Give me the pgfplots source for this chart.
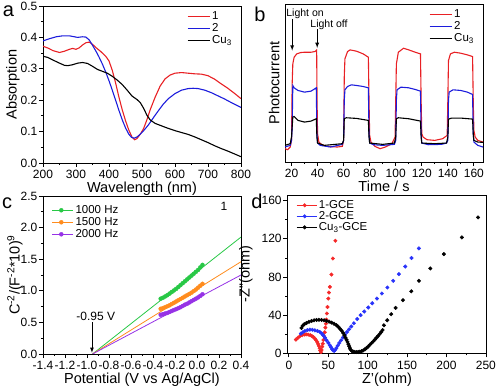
\documentclass[border=0pt]{standalone}
\usepackage{fontspec}
\setmainfont{Liberation Sans}
\usepackage{pgfplots}
\pgfplotsset{compat=1.18}
\definecolor{ar}{RGB}{232,32,36}
\definecolor{ab}{RGB}{28,28,220}
\definecolor{cg}{RGB}{40,200,70}
\definecolor{co}{RGB}{255,140,30}
\definecolor{cp}{RGB}{150,50,230}
\definecolor{dr}{RGB}{245,40,40}
\definecolor{db}{RGB}{40,50,250}
\pgfplotsset{every axis/.append style={
  scale only axis, anchor=south west,
  font=\fontsize{12bp}{14bp}\selectfont,
  tick align=outside, tick pos=left,
  major tick length=4bp, minor tick length=2.2bp,
  /pgf/number format/assume math mode=true,
  yticklabel style={inner xsep=1.5bp},
  label style={font=\fontsize{14.5bp}{16bp}\selectfont},
  axis line style={line width=0.9bp},
  every tick/.style={black, line width=0.8bp},
  legend cell align=left,
  legend style={draw=none, fill=none, font=\fontsize{11.5bp}{12.5bp}\selectfont, row sep=-1.5bp, inner sep=1bp},
}}
\begin{document}
\begin{tikzpicture}[x=1bp,y=1bp]
\useasboundingbox (0bp,0bp) rectangle (500bp,386bp);
% ---------------- a
\begin{axis}[at={(43bp,223bp)}, width=198bp, height=157bp,
  xmin=200, xmax=800, ymin=0, ymax=0.5,
  xtick={200,300,...,800}, ytick={0,0.1,...,0.5},
  minor x tick num=1, minor y tick num=1,
  yticklabel style={/pgf/number format/.cd, fixed, fixed zerofill, precision=1},
  xlabel={Wavelength (nm)}, ylabel={Absorption},
  xlabel style={yshift=3.5bp}, ylabel style={yshift=-4bp},
  legend style={at={(0.97,0.985)}, anchor=north east},
  legend image code/.code={\draw[#1] (0bp,0bp) -- (22bp,0bp);},
  every axis plot/.append style={line width=1.1bp}]
\addplot[ar] coordinates {(200,0.372)(215,0.366)(230,0.358)(250,0.352)(265,0.356)(280,0.362)(290,0.365)(300,0.362)(310,0.367)(320,0.376)(330,0.383)(340,0.385)(350,0.378)(360,0.368)(375,0.355)(390,0.34)(400,0.325)(410,0.295)(420,0.255)(430,0.21)(440,0.17)(450,0.135)(460,0.105)(470,0.082)(478,0.074)(485,0.078)(495,0.092)(505,0.11)(515,0.138)(525,0.17)(540,0.21)(555,0.245)(570,0.268)(585,0.28)(600,0.286)(620,0.288)(640,0.286)(660,0.284)(680,0.283)(700,0.278)(720,0.267)(740,0.252)(760,0.238)(780,0.222)(800,0.205)};
\addlegendentry{1}
\addplot[ab] coordinates {(200,0.389)(220,0.396)(240,0.402)(260,0.405)(280,0.405)(295,0.402)(305,0.400)(320,0.402)(330,0.401)(340,0.392)(350,0.375)(360,0.357)(370,0.337)(380,0.315)(390,0.29)(400,0.262)(410,0.232)(420,0.2)(430,0.168)(440,0.138)(450,0.112)(460,0.092)(468,0.082)(476,0.079)(485,0.083)(495,0.092)(505,0.103)(520,0.122)(535,0.145)(550,0.167)(565,0.188)(580,0.205)(600,0.221)(620,0.232)(640,0.237)(655,0.238)(670,0.237)(690,0.232)(710,0.224)(730,0.214)(750,0.204)(775,0.19)(800,0.177)};
\addlegendentry{2}
\addplot[black] coordinates {(200,0.340)(215,0.336)(230,0.328)(250,0.318)(265,0.311)(275,0.310)(290,0.313)(305,0.318)(320,0.320)(335,0.317)(350,0.308)(365,0.298)(380,0.292)(395,0.286)(410,0.276)(425,0.264)(440,0.250)(455,0.232)(470,0.213)(485,0.202)(495,0.192)(505,0.174)(515,0.152)(525,0.137)(540,0.126)(560,0.118)(580,0.110)(600,0.103)(620,0.097)(640,0.091)(660,0.083)(680,0.074)(700,0.065)(720,0.055)(740,0.046)(760,0.038)(780,0.029)(800,0.020)};
\addlegendentry{Cu\textsubscript{3}}
\end{axis}
% ---------------- b
\begin{axis}[at={(285bp,224bp)}, width=198bp, height=158bp,
  xmin=15, xmax=167, ymin=0, ymax=47.5,
  xtick={20,40,...,160}, ytick=\empty, minor x tick num=1,
  xlabel={Time / s}, ylabel={Photocurrent},
  xlabel style={yshift=3.5bp}, ylabel style={yshift=-2bp},
  legend style={at={(0.97,0.985)}, anchor=north east},
  legend image code/.code={\draw[#1] (0bp,0bp) -- (22bp,0bp);},
  every axis plot/.append style={line width=1.1bp}]
\addplot[ar] coordinates {(15,4.0)(17,3.7)(19,4.5)(20,6.5)(20.5,23.5)(21,29.5)(22,31.5)(24,32.5)(27,32.9)(30,33.0)(35,33.0)(38,33.2)(39.3,33.7)(39.6,18.5)(40,8.5)(41,6.0)(43,5.3)(47,4.7)(55,4.5)(59,4.7)(60,6.5)(60.5,25.5)(61,31)(63,33.2)(65,33.7)(70,33.3)(75,32.5)(79,31.5)(79.5,18.5)(80,8.0)(81,6.0)(84,4.7)(88,4.0)(92,4.5)(97,5.5)(99.5,7.5)(100,18.5)(100.5,29.5)(102,33.0)(106,34.2)(110,33.7)(115,33.0)(119,32.5)(119.5,18.5)(120,8.5)(121,7.5)(124,6.7)(130,6.5)(136,7.0)(139.5,8.0)(140,18.5)(140.5,30.5)(142,32.5)(145,33.0)(150,32.7)(155,32.2)(159,31.7)(159.5,18.5)(160,9.5)(161,7.5)(163,6.5)(167,6.0)};
\addlegendentry{1}
\addplot[ab] coordinates {(15,4.5)(19,5.0)(20,6.5)(20.5,10.5)(21,23.0)(22,22.3)(25,21.5)(30,21.0)(35,21.3)(39,22.3)(39.5,8.5)(40,5.7)(42,5.0)(50,4.5)(59,5.3)(60,6.5)(60.5,18.5)(61,21.7)(63,22.7)(66,23.2)(70,23.0)(75,22.7)(79,22.3)(79.5,8.5)(80,5.7)(83,5.2)(90,5.0)(99,5.3)(100,6.5)(100.5,18.5)(101,21.7)(104,22.5)(110,22.3)(115,21.8)(119,21.3)(119.5,8.5)(120,5.7)(125,5.2)(135,5.3)(139,5.7)(140,6.5)(140.5,18.5)(141,21.0)(144,21.7)(150,21.5)(155,21.0)(159,20.3)(159.5,8.5)(160,6.0)(163,5.0)(167,4.5)};
\addlegendentry{2}
\addplot[black] coordinates {(15,5.0)(19,5.5)(20,7.5)(20.5,10.5)(21,13.5)(22,13.7)(25,12.5)(30,12.0)(35,12.3)(39,13.0)(39.5,7.5)(40,5.7)(45,5.0)(59,5.5)(60,6.5)(60.5,13.0)(62,13.3)(70,13.1)(79,12.5)(79.5,7.5)(80,5.7)(90,5.3)(99,5.7)(100,7.5)(100.5,13.0)(102,13.3)(110,13.0)(119,12.3)(119.5,7.5)(120,5.7)(130,5.5)(139,5.7)(140,7.5)(140.5,12.9)(143,13.2)(150,13.2)(159,12.9)(159.5,8.5)(160,6.5)(163,6.0)(167,5.9)};
\addlegendentry{Cu\textsubscript{3}}
\node[font=\fontsize{10.5bp}{12bp}\selectfont] at (axis cs:30.4,44.5) {Light on};
\node[font=\fontsize{10.5bp}{12bp}\selectfont] at (axis cs:48.8,41.3) {Light off};
\draw[-latex, line width=0.8bp] (axis cs:20.5,43) -- (axis cs:20.5,33.5);
\draw[-latex, line width=0.8bp] (axis cs:39.7,40) -- (axis cs:39.7,34.3);
\end{axis}
% ---------------- c
\begin{axis}[at={(43bp,32bp)}, width=198bp, height=158bp,
  xmin=-1.4, xmax=0.4, ymin=0, ymax=2.5,
  xtick={-1.4,-1.2,...,0.41}, ytick={0,0.5,...,2.5},
  minor x tick num=1, minor y tick num=1,
  xticklabel style={/pgf/number format/.cd, fixed, fixed zerofill, precision=1},
  yticklabel style={/pgf/number format/.cd, fixed, fixed zerofill, precision=1},
  xlabel={Potential (V vs Ag/AgCl)}, ylabel={C\textsuperscript{-2}/(F\textsuperscript{-2}*10)\textsuperscript{9}},
  xlabel style={yshift=4bp}, ylabel style={yshift=-7bp},
  legend style={at={(0.04,0.96)}, anchor=north west, row sep=-1.5bp},
  legend image code/.code={\path (0bp,0bp) -- (21bp,0bp); \draw[#1] plot coordinates {(9bp,0bp)};},
  ]
\addplot[cg, only marks, mark=*, mark size=2bp] coordinates {(-0.33,0.875)(-0.31,0.89)(-0.29,0.91)(-0.27,0.93)(-0.25,0.955)(-0.23,0.98)(-0.21,1.005)(-0.19,1.03)(-0.17,1.06)(-0.15,1.09)(-0.13,1.12)(-0.11,1.15)(-0.09,1.18)(-0.07,1.21)(-0.05,1.24)(-0.03,1.27)(-0.01,1.30)(0.01,1.33)(0.03,1.37)(0.05,1.41)};
\addlegendentry{1000 Hz}
\addplot[co, only marks, mark=*, mark size=2bp] coordinates {(-0.33,0.715)(-0.31,0.725)(-0.29,0.74)(-0.27,0.755)(-0.25,0.77)(-0.23,0.79)(-0.21,0.81)(-0.19,0.83)(-0.17,0.85)(-0.15,0.87)(-0.13,0.89)(-0.11,0.91)(-0.09,0.93)(-0.07,0.95)(-0.05,0.97)(-0.03,0.995)(-0.01,1.02)(0.01,1.05)(0.03,1.08)(0.05,1.11)};
\addlegendentry{1500 Hz}
\addplot[cp, only marks, mark=*, mark size=2bp] coordinates {(-0.33,0.62)(-0.31,0.63)(-0.29,0.64)(-0.27,0.65)(-0.25,0.665)(-0.23,0.68)(-0.21,0.695)(-0.19,0.71)(-0.17,0.725)(-0.15,0.74)(-0.13,0.76)(-0.11,0.78)(-0.09,0.795)(-0.07,0.815)(-0.05,0.835)(-0.03,0.855)(-0.01,0.875)(0.01,0.895)(0.03,0.92)(0.05,0.945)};
\addlegendentry{2000 Hz}
\addplot[cg, line width=0.8bp, forget plot] coordinates {(-0.95,0)(0.4,1.85)};
\addplot[co, line width=0.8bp, forget plot] coordinates {(-0.95,0)(0.4,1.46)};
\addplot[cp, line width=0.8bp, forget plot] coordinates {(-0.95,0)(0.4,1.25)};
\node[font=\fontsize{12bp}{14bp}\selectfont] at (axis cs:0.245,2.33) {1};
\node[font=\fontsize{12bp}{14bp}\selectfont] at (axis cs:-0.92,0.6) {-0.95 V};
\draw[-latex, line width=0.8bp] (axis cs:-0.955,0.5) -- (axis cs:-0.955,0.02);
\end{axis}
% ---------------- d
\begin{axis}[at={(287.3bp,32.7bp)}, width=199.4bp, height=158.3bp,
  xmin=-2, xmax=251, ymin=0, ymax=166,
  xtick={0,50,...,250}, ytick={0,40,...,160},
  minor x tick num=1, minor y tick num=1,
  xlabel={Z'(ohm)}, ylabel={-Z''(ohm)},
  xlabel style={yshift=3bp}, ylabel style={yshift=4bp},
  legend style={at={(0.04,0.985)}, anchor=north west, row sep=-2.5bp},
  legend image code/.code={\path (0bp,0bp) -- (20bp,0bp); \draw[#1] plot coordinates {(8bp,0bp)};},
  ]
\addplot[dr, only marks, mark=*, mark size=1.8bp] coordinates {(8.9,14.4)(11.5,16.3)(14,17.9)(16.8,19)(19.5,19.6)(22,19.8)(24.6,19.6)(27,19)(29,18.3)(31,17)(33,15.4)(34.6,13.7)(36,11.9)(37,9.8)(38,7.7)(39,5.3)(39.8,3)(40.7,1.3)(41.5,3.5)(42.3,7)(43,10)(43.8,14)(44.6,18)(45.5,22)(46.3,27)(47,31)(47.6,35.4)(48.2,41.7)(49,48.6)(50,57.4)(50.8,63.7)(52,69.6)(54,82.6)(55.8,99.4)(59,118)};
\addlegendentry{1-GCE}
\addplot[db, only marks, mark=*, mark size=1.8bp] coordinates {(15.2,20.6)(17.7,22)(20.3,23.4)(23.4,24.3)(26.6,24.8)(29.8,24.7)(33,24.1)(36.2,23.4)(39.3,22.4)(41.6,20.8)(43.6,18.9)(45.8,16.3)(47.8,13.6)(50,11)(52,8.4)(53.6,6.2)(55,4.2)(56.3,3)(57.5,2.6)(58.8,3.6)(60.3,5.5)(62,8)(64,10.8)(66.2,13.6)(68.6,16.5)(71.1,19.4)(73.7,22.3)(76.4,25.2)(79.2,28.2)(82.5,31.5)(86.7,36)(91,40)(95.6,43.8)(100.7,48)(105.8,52.5)(111.7,57.4)(118,62.7)(125,69)(132.4,76)(139.6,83)(147.6,91)(155.6,100)(165,110)};
\addlegendentry{2-GCE}
\addplot[black, only marks, mark=*, mark size=1.8bp] coordinates {(16,26.6)(17.5,28.9)(19.5,30.5)(22.4,31.8)(25.5,33)(28.8,33.9)(32,34.6)(35.1,35)(38.2,35.1)(41.4,35)(44.6,34.6)(47.8,33.9)(51,33.2)(54.1,32.2)(57.3,31)(60.4,29.4)(62.6,27.8)(64.6,25.9)(66.8,23.8)(68.9,21.4)(70.5,19)(71.8,16.5)(73.2,14.2)(74.4,12)(75.5,9.6)(76.5,7.4)(77.4,5.5)(78.2,3.8)(79.8,2.5)(81.6,1.7)(83.7,1.4)(85.9,1.3)(88,1.4)(90,1.7)(92.2,2.2)(94.3,3)(96.4,4.1)(98.5,5.5)(100.7,7.2)(102.8,9)(104.9,10.7)(107,12.5)(109.1,14.4)(111.2,16.3)(113.4,18.4)(115.5,20.5)(117.2,22.4)(118.9,24.4)(120.6,29.4)(124.8,34.7)(129.8,41)(135.4,47.6)(144.7,55.7)(155.3,65)(165,76)(179.4,89)(196.7,104)(219.5,121.5)(240,142.5)};
\addlegendentry{Cu\textsubscript{3}-GCE}
\end{axis}
% panel letters
\node[font=\fontsize{20bp}{22bp}\selectfont] at (8.5bp,375bp) {a};
\node[font=\fontsize{20bp}{22bp}\selectfont] at (260bp,372bp) {b};
\node[font=\fontsize{20bp}{22bp}\selectfont] at (7bp,183bp) {c};
\node[font=\fontsize{20bp}{22bp}\selectfont] at (257bp,185bp) {d};
\end{tikzpicture}
\end{document}
